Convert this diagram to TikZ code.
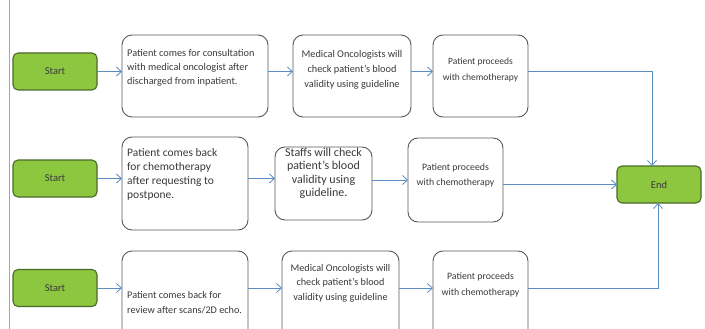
\documentclass[tikz,border=0pt]{standalone}
\usepackage{fontspec}
\setmainfont{Carlito}
\usetikzlibrary{arrows.meta,calc}
\definecolor{txtc}{HTML}{3A3A3A}
\definecolor{grnfill}{HTML}{8DC63F}
\definecolor{grnline}{HTML}{4A6B2A}
\definecolor{arrc}{HTML}{5B8CC4}
\definecolor{boxline}{HTML}{5A5A5A}
\tikzset{
  gbox/.style={draw=grnline, line width=1.1pt, fill=grnfill, rounded corners=5pt,
    minimum width=84pt, minimum height=37pt, inner sep=0pt, outer sep=0pt,
    text=txtc, font=\fontsize{10.5}{12}\selectfont},
  wbox/.style={draw=boxline, line width=0.9pt, fill=white, rounded corners=10pt,
    inner sep=0pt, outer sep=0pt},
  txt/.style={text=txtc, inner sep=0pt},
  arr/.style={draw=arrc, line width=0.8pt, -{Straight Barb[length=5pt,width=9pt]}}
}
\begin{document}
\begin{tikzpicture}[x=1pt,y=-1pt]
\useasboundingbox (0,0) rectangle (705,329);
\clip (0,0) rectangle (705,329);
\fill[white] (0,0) rectangle (705,329);
\draw[gray!70, line width=0.8pt] (9,0) -- (9,329);

% Row 1
\node[gbox] (s1) at (55,71.5) {Start};
\node[wbox, minimum width=146pt, minimum height=82pt] (b1) at (195,76) {};
\node[txt, font=\fontsize{10.3}{14}\selectfont, align=left, anchor=west] (t1) at ([xshift=5pt,yshift=8pt]b1.west) {Patient comes for consultation\\with medical oncologist after\\discharged from inpatient.};
\node[wbox, minimum width=118pt, minimum height=82pt] (b2) at (352,76) {};
\node[txt, font=\fontsize{10.3}{15}\selectfont, align=center] (t2) at ([yshift=6pt]b2.center) {Medical Oncologists will\\check patient's blood\\validity using guideline};
\node[wbox, minimum width=95pt, minimum height=82pt] (b3) at (480.5,76) {};
\node[txt, font=\fontsize{9.5}{16}\selectfont, align=center] (t3) at ([yshift=6pt]b3.center) {Patient proceeds\\with chemotherapy};

% Row 2
\node[gbox] (s2) at (55,178.5) {Start};
\node[wbox, minimum width=126pt, minimum height=93pt] (b4) at (185,183.5) {};
\node[txt, font=\fontsize{11.5}{14}\selectfont, align=left, anchor=west] (t4) at ([xshift=5pt,yshift=9pt]b4.west) {Patient comes back\\for chemotherapy\\after requesting to\\postpone.};
\node[wbox, minimum width=97pt, minimum height=73pt] (b5) at (323.5,183.5) {};
\node[txt, font=\fontsize{12}{13.5}\selectfont, align=center] (t5) at ([yshift=10pt]b5.center) {Staffs will check\\patient's blood\\validity using\\guideline.};
\node[wbox, minimum width=95pt, minimum height=84pt] (b6) at (455.5,180) {};
\node[txt, font=\fontsize{9.8}{15}\selectfont, align=center] (t6) at ([yshift=5pt]b6.center) {Patient proceeds\\with chemotherapy};
\node[gbox] (e) at (659,184.5) {End};

% Row 3
\node[gbox] (s3) at (55,288) {Start};
\node[wbox, minimum width=126pt, minimum height=94pt] (b7) at (185,298) {};
\node[txt, font=\fontsize{10.2}{15}\selectfont, align=left, anchor=west] (t7) at (127,302.5) {Patient comes back for\\review after scans/2D echo.};
\node[wbox, minimum width=117pt, minimum height=94pt] (b8) at (340.5,298) {};
\node[txt, font=\fontsize{10.2}{14.5}\selectfont, align=center] (t8) at (340.5,283) {Medical Oncologists will\\check patient's blood\\validity using guideline};
\node[wbox, minimum width=95pt, minimum height=94pt] (b9) at (480.5,298) {};
\node[txt, font=\fontsize{9.8}{16}\selectfont, align=center] (t9) at (480.5,285) {Patient proceeds\\with chemotherapy};

% Connectors row 1
\draw[arr] (s1.east) -- (s1.east -| b1.west);
\draw[arr] (b1.east |- s1.east) -- (b2.west |- s1.east);
\draw[arr] (b2.east |- s1.east) -- (b3.west |- s1.east);
\coordinate (c1) at ([xshift=-7pt]e.north);
\draw[arr] (b3.east |- s1.east) -| (c1);

% Connectors row 2
\draw[arr] (s2.east) -- (s2.east -| b4.west);
\draw[arr] (b4.east |- s2.east) -- (b5.west |- s2.east);
\draw[arr] (b5.east |- b6.center) -- (b6.west);
\draw[arr] (b6.east |- e.west) -- (e.west);

% Connectors row 3
\draw[arr] (s3.east) -- (s3.east -| b7.west);
\draw[arr] (b7.east |- s3.east) -- (b8.west |- s3.east);
\draw[arr] (b8.east |- s3.east) -- (b9.west |- s3.east);
\coordinate (c3) at ([xshift=-1pt]e.south);
\draw[arr] (b9.east |- s3.east) -| (c3);
\end{tikzpicture}
\end{document}
